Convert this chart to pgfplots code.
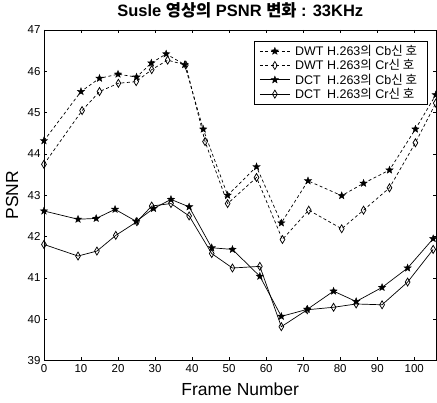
\documentclass[border=0pt]{standalone}
\usepackage{pgfplots}
\pgfplotsset{compat=1.18}
\usepackage{fontspec}
\setmainfont{Liberation Sans}
\newfontfamily\kr{Noto Sans CJK KR}

% filled five-pointed star, like MATLAB's pentagram
\pgfdeclareplotmark{pent}{%
  \pgfpathmoveto{\pgfpointpolar{90}{\pgfplotmarksize}}%
  \pgfpathlineto{\pgfpointpolar{126}{0.42\pgfplotmarksize}}%
  \pgfpathlineto{\pgfpointpolar{162}{\pgfplotmarksize}}%
  \pgfpathlineto{\pgfpointpolar{198}{0.42\pgfplotmarksize}}%
  \pgfpathlineto{\pgfpointpolar{234}{\pgfplotmarksize}}%
  \pgfpathlineto{\pgfpointpolar{270}{0.42\pgfplotmarksize}}%
  \pgfpathlineto{\pgfpointpolar{306}{\pgfplotmarksize}}%
  \pgfpathlineto{\pgfpointpolar{342}{0.42\pgfplotmarksize}}%
  \pgfpathlineto{\pgfpointpolar{18}{\pgfplotmarksize}}%
  \pgfpathlineto{\pgfpointpolar{54}{0.42\pgfplotmarksize}}%
  \pgfpathclose
  \pgfusepathqfillstroke
}

\begin{document}
\begin{tikzpicture}
\begin{axis}[
  name=ax,
  scale only axis,
  width=393pt, height=331pt,
  xmin=0, xmax=106,
  ymin=39, ymax=47,
  xtick={0,10,...,100},
  ytick={39,40,...,47},
  tick align=inside,
  tick pos=both,
  major tick length=3.5pt,
  axis line style={line width=0.8pt},
  every tick/.style={black, line width=0.6pt},
  tick label style={font=\fontsize{11.5}{13}\selectfont},
  /pgf/number format/assume math mode=true,
  title={\bfseries Susle {\kr 영상의} PSNR {\kr 변화} : 33KHz},
  title style={font=\fontsize{16.5}{18}\selectfont, at={(axis description cs:0.5,1.042)}, anchor=center},
  xlabel={Frame Number},
  ylabel={PSNR},
  label style={font=\fontsize{17.5}{19}\selectfont},
  xlabel style={at={(axis description cs:0.5,-0.088)}, anchor=center},
  ylabel style={at={(axis description cs:-0.081,0.5)}, anchor=center},
  legend style={
    at={(0.977,0.967)}, anchor=north east,
    font=\fontsize{12.5}{13}\selectfont,
    draw=black, line width=0.8pt, fill=white,
    row sep=-1.5pt, inner xsep=5pt, inner ysep=2pt,
    nodes={inner xsep=5pt},
  },
  legend cell align=left,
  legend image code/.code={
    \draw[mark repeat=2, mark phase=2, #1]
      plot coordinates {(0pt,0pt) (15pt,0pt) (30pt,0pt)};
  },
]

% DWT Cb
\addplot[black, line width=0.7pt, dash pattern=on 3pt off 2.5pt,
  mark=pent, mark size=3.8pt, mark options={solid, fill=black, line width=0.4pt}]
  coordinates {
  (0,44.32)(10,45.51)(15,45.83)(20,45.93)(25,45.86)(29,46.20)
  (33,46.42)(38,46.16)(43,44.60)(49.6,43.00)(57.4,43.69)(64.1,42.33)
  (71.3,43.35)(80.4,42.99)(86.3,43.29)(93.3,43.61)(100.3,44.60)(105.8,45.43)
};
\addlegendentry{DWT H.263{\kr 의} Cb{\kr 신 호}}

% DWT Cr
\addplot[black, line width=0.7pt, dash pattern=on 3pt off 2.5pt,
  mark=diamond, mark size=4pt, mark options={solid, fill=white, xscale=0.8, line width=0.75pt}]
  coordinates {
  (0,43.75)(10.3,45.05)(15,45.51)(20.1,45.71)(24.9,45.75)(29.1,46.04)
  (33.4,46.27)(38.3,46.15)(43.5,44.30)(49.6,42.80)(57.4,43.43)(64.4,41.93)
  (71.5,42.64)(80.4,42.19)(86.3,42.64)(93.3,43.18)(100.3,44.27)(105.8,45.23)
};
\addlegendentry{DWT H.263{\kr 의} Cr{\kr 신 호}}

% DCT Cb
\addplot[black, line width=0.7pt,
  mark=pent, mark size=3.8pt, mark options={solid, fill=black, line width=0.4pt}]
  coordinates {
  (0,42.62)(9.2,42.42)(14.1,42.44)(19.2,42.66)(24.9,42.37)(29.6,42.68)
  (34.3,42.90)(39.2,42.72)(45.3,41.73)(50.9,41.69)(58.3,41.04)(64.1,40.07)
  (71.1,40.24)(78.2,40.68)(84.3,40.43)(91.3,40.77)(98.2,41.24)(105.1,41.95)
};
\addlegendentry{\rlap{DCT}\hphantom{DWT} H.263{\kr 의} Cb{\kr 신 호}}

% DCT Cr
\addplot[black, line width=0.7pt,
  mark=diamond, mark size=4pt, mark options={solid, fill=white, xscale=0.8, line width=0.75pt}]
  coordinates {
  (0,41.81)(9.2,41.53)(14.3,41.65)(19.4,42.03)(25.1,42.36)(29.1,42.74)
  (34.3,42.80)(39.2,42.50)(45.3,41.59)(50.9,41.24)(58.3,41.28)(64.1,39.82)
  (71.1,40.23)(78.2,40.29)(84.3,40.37)(91.3,40.35)(98.2,40.90)(105.1,41.69)
};
\addlegendentry{\rlap{DCT}\hphantom{DWT} H.263{\kr 의} Cr{\kr 신 호}}

\end{axis}
\pgfresetboundingbox
\path ([shift={(-44pt,-42pt)}]ax.south west) rectangle ([shift={(0.5pt,30pt)}]ax.north east);
\end{tikzpicture}
\end{document}
